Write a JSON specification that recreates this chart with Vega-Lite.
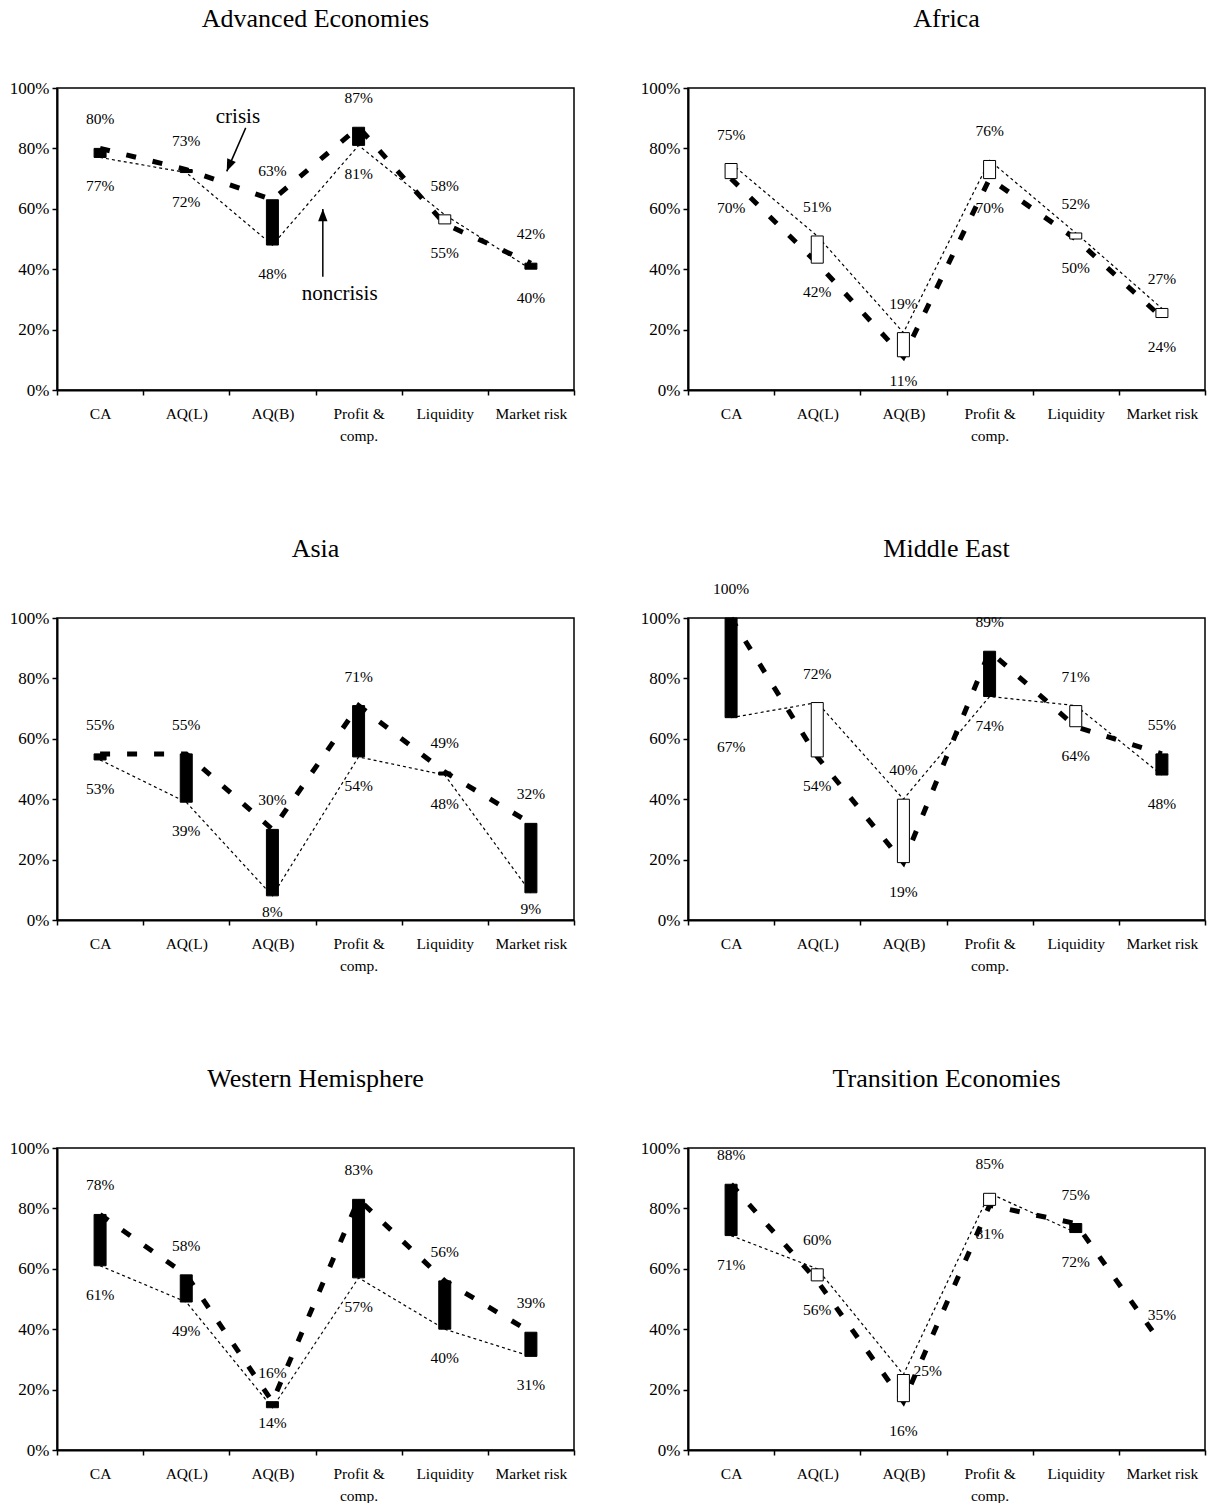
{
  "$schema": "https://vega.github.io/schema/vega-lite/v6.json",
  "background": "white",
  "padding": {"left": 8, "top": 5, "right": 0, "bottom": 0},
  "bounds": "flush",
  "config": {
    "font": "Liberation Serif",
    "view": {"stroke": "black", "strokeWidth": 1.5},
    "line": {"color": "black"},
    "bar": {"stroke": "black", "strokeWidth": 1},
    "text": {"font": "Liberation Serif", "fontSize": 15.5, "color": "black"},
    "rule": {"color": "black"},
    "point": {"color": "black", "filled": true, "opacity": 1},
    "axis": {
      "labelColor": "black",
      "labelFont": "Liberation Serif",
      "labelFontSize": 15.5,
      "domainColor": "black",
      "domainWidth": 2,
      "tickColor": "black",
      "tickWidth": 1.5,
      "tickSize": 5,
      "grid": false
    },
    "axisY": {"labelFontSize": 17}
  },
  "data": {
    "values": [
      {"region": "Advanced Economies", "cat": "CA", "crisis": 0.80, "noncrisis": 0.77},
      {"region": "Advanced Economies", "cat": "AQ(L)", "crisis": 0.73, "noncrisis": 0.72},
      {"region": "Advanced Economies", "cat": "AQ(B)", "crisis": 0.63, "noncrisis": 0.48},
      {"region": "Advanced Economies", "cat": "Profit & comp.", "crisis": 0.87, "noncrisis": 0.81},
      {"region": "Advanced Economies", "cat": "Liquidity", "crisis": 0.55, "noncrisis": 0.58},
      {"region": "Advanced Economies", "cat": "Market risk", "crisis": 0.42, "noncrisis": 0.40},
      {"region": "Africa", "cat": "CA", "crisis": 0.70, "noncrisis": 0.75},
      {"region": "Africa", "cat": "AQ(L)", "crisis": 0.42, "noncrisis": 0.51},
      {"region": "Africa", "cat": "AQ(B)", "crisis": 0.11, "noncrisis": 0.19},
      {"region": "Africa", "cat": "Profit & comp.", "crisis": 0.70, "noncrisis": 0.76},
      {"region": "Africa", "cat": "Liquidity", "crisis": 0.50, "noncrisis": 0.52},
      {"region": "Africa", "cat": "Market risk", "crisis": 0.24, "noncrisis": 0.27},
      {"region": "Asia", "cat": "CA", "crisis": 0.55, "noncrisis": 0.53},
      {"region": "Asia", "cat": "AQ(L)", "crisis": 0.55, "noncrisis": 0.39},
      {"region": "Asia", "cat": "AQ(B)", "crisis": 0.30, "noncrisis": 0.08},
      {"region": "Asia", "cat": "Profit & comp.", "crisis": 0.71, "noncrisis": 0.54},
      {"region": "Asia", "cat": "Liquidity", "crisis": 0.49, "noncrisis": 0.48},
      {"region": "Asia", "cat": "Market risk", "crisis": 0.32, "noncrisis": 0.09},
      {"region": "Middle East", "cat": "CA", "crisis": 1.00, "noncrisis": 0.67},
      {"region": "Middle East", "cat": "AQ(L)", "crisis": 0.54, "noncrisis": 0.72},
      {"region": "Middle East", "cat": "AQ(B)", "crisis": 0.19, "noncrisis": 0.40},
      {"region": "Middle East", "cat": "Profit & comp.", "crisis": 0.89, "noncrisis": 0.74},
      {"region": "Middle East", "cat": "Liquidity", "crisis": 0.64, "noncrisis": 0.71},
      {"region": "Middle East", "cat": "Market risk", "crisis": 0.55, "noncrisis": 0.48},
      {"region": "Western Hemisphere", "cat": "CA", "crisis": 0.78, "noncrisis": 0.61},
      {"region": "Western Hemisphere", "cat": "AQ(L)", "crisis": 0.58, "noncrisis": 0.49},
      {"region": "Western Hemisphere", "cat": "AQ(B)", "crisis": 0.16, "noncrisis": 0.14},
      {"region": "Western Hemisphere", "cat": "Profit & comp.", "crisis": 0.83, "noncrisis": 0.57},
      {"region": "Western Hemisphere", "cat": "Liquidity", "crisis": 0.56, "noncrisis": 0.40},
      {"region": "Western Hemisphere", "cat": "Market risk", "crisis": 0.39, "noncrisis": 0.31},
      {"region": "Transition Economies", "cat": "CA", "crisis": 0.88, "noncrisis": 0.71},
      {"region": "Transition Economies", "cat": "AQ(L)", "crisis": 0.56, "noncrisis": 0.60},
      {"region": "Transition Economies", "cat": "AQ(B)", "crisis": 0.16, "noncrisis": 0.25},
      {"region": "Transition Economies", "cat": "Profit & comp.", "crisis": 0.81, "noncrisis": 0.85},
      {"region": "Transition Economies", "cat": "Liquidity", "crisis": 0.75, "noncrisis": 0.72},
      {"region": "Transition Economies", "cat": "Market risk", "crisis": 0.35, "noncrisis": null},
      {"region": "Advanced Economies", "note": "crisis", "tx": 2.10, "ty": 0.905, "ax": 2.19, "ay": 0.868, "bx": 1.97, "by": 0.724},
      {"region": "Advanced Economies", "note": "noncrisis", "tx": 3.28, "ty": 0.319, "ax": 3.085, "ay": 0.375, "bx": 3.085, "by": 0.599}
    ]
  },
  "columns": 2,
  "spacing": {"column": 114, "row": 228},
  "concat": [
    {
      "transform": [{"filter": "datum.region == 'Advanced Economies'"}],
      "width": 517, "height": 302,
      "layer": [
        {
          "encoding": {"x": {"field": "cat", "type": "nominal", "scale": {"domain": ["CA", "AQ(L)", "AQ(B)", "Profit & comp.", "Liquidity", "Market risk"], "paddingInner": 0, "paddingOuter": 0}, "axis": {"title": null, "labelAngle": 0, "tickBand": "extent", "labelPadding": 11, "labelLineHeight": 22, "labelExpr": "datum.value == 'Profit & comp.' ? ['Profit &', 'comp.'] : datum.value"}}},
          "layer": [
            {"transform": [{"filter": "isValid(datum.cat)"}], "mark": {"type": "line", "strokeWidth": 1.2, "strokeDash": [3, 3]}, "encoding": {"y": {"field": "noncrisis", "type": "quantitative", "title": null, "scale": {"domain": [0, 1]}, "axis": {"values": [0, 0.2, 0.4, 0.6, 0.8, 1], "format": ".0%", "labelPadding": 3, "title": null}}}},
            {"transform": [{"filter": "isValid(datum.cat)"}], "mark": {"type": "line", "strokeWidth": 5, "strokeDash": [10, 17], "strokeCap": "butt"}, "encoding": {"y": {"field": "crisis", "type": "quantitative", "title": null, "scale": {"domain": [0, 1]}}}},
            {"transform": [{"filter": "isValid(datum.cat) && isValid(datum.noncrisis)"}], "mark": {"type": "bar", "size": 12}, "encoding": {"y": {"field": "crisis", "type": "quantitative", "title": null, "scale": {"domain": [0, 1]}}, "y2": {"field": "noncrisis"}, "fill": {"condition": {"test": "datum.crisis > datum.noncrisis", "value": "black"}, "value": "white"}}},
            {"transform": [{"filter": "isValid(datum.cat)"}, {"fold": ["crisis", "noncrisis"], "as": ["series", "value"]}, {"filter": "isValid(datum.value) && datum.value >= max(datum.crisis, isValid(datum.noncrisis) ? datum.noncrisis : 0)"}], "mark": {"type": "text", "dy": -29}, "encoding": {"y": {"field": "value", "type": "quantitative", "title": null, "scale": {"domain": [0, 1]}}, "text": {"field": "value", "type": "quantitative", "format": ".0%"}}},
            {"transform": [{"filter": "isValid(datum.cat) && isValid(datum.noncrisis)"}, {"fold": ["crisis", "noncrisis"], "as": ["series", "value"]}, {"filter": "datum.value < max(datum.crisis, datum.noncrisis) && datum.value >= 0.15"}], "mark": {"type": "text", "dy": 29}, "encoding": {"y": {"field": "value", "type": "quantitative", "title": null, "scale": {"domain": [0, 1]}}, "text": {"field": "value", "type": "quantitative", "format": ".0%"}}},
            {"transform": [{"filter": "isValid(datum.cat) && isValid(datum.noncrisis)"}, {"fold": ["crisis", "noncrisis"], "as": ["series", "value"]}, {"filter": "datum.value < max(datum.crisis, datum.noncrisis) && datum.value < 0.15"}], "mark": {"type": "text", "dy": 17}, "encoding": {"y": {"field": "value", "type": "quantitative", "title": null, "scale": {"domain": [0, 1]}}, "text": {"field": "value", "type": "quantitative", "format": ".0%"}}}
          ]
        },
        {
          "layer": [
            {"transform": [{"filter": "isValid(datum.cat)"}, {"aggregate": [{"op": "count", "as": "n"}], "groupby": ["region"]}], "mark": {"type": "text", "fontSize": 26, "baseline": "middle"}, "encoding": {"x": {"datum": 3, "type": "quantitative", "scale": {"domain": [0, 6]}, "axis": null}, "y": {"datum": 1.228, "type": "quantitative", "title": null, "scale": {"domain": [0, 1]}}, "text": {"field": "region"}}},
            {"transform": [{"filter": "isValid(datum.note)"}], "mark": {"type": "text", "fontSize": 21}, "encoding": {"x": {"field": "tx", "type": "quantitative", "scale": {"domain": [0, 6]}, "axis": null}, "y": {"field": "ty", "type": "quantitative", "title": null, "scale": {"domain": [0, 1]}}, "text": {"field": "note"}}},
            {"transform": [{"filter": "isValid(datum.note)"}], "mark": {"type": "rule", "strokeWidth": 1.5}, "encoding": {"x": {"field": "ax", "type": "quantitative", "scale": {"domain": [0, 6]}, "axis": null}, "y": {"field": "ay", "type": "quantitative", "title": null, "scale": {"domain": [0, 1]}}, "x2": {"field": "bx"}, "y2": {"field": "by"}}},
            {"transform": [{"filter": "datum.note == 'crisis'"}], "mark": {"type": "point", "shape": "M0,0L-0.5,1.3L0.5,1.3Z", "size": 350, "angle": 203}, "encoding": {"x": {"field": "bx", "type": "quantitative", "scale": {"domain": [0, 6]}, "axis": null}, "y": {"field": "by", "type": "quantitative", "title": null, "scale": {"domain": [0, 1]}}}},
            {"transform": [{"filter": "datum.note == 'noncrisis'"}], "mark": {"type": "point", "shape": "M0,0L-0.5,1.3L0.5,1.3Z", "size": 350, "angle": 0}, "encoding": {"x": {"field": "bx", "type": "quantitative", "scale": {"domain": [0, 6]}, "axis": null}, "y": {"field": "by", "type": "quantitative", "title": null, "scale": {"domain": [0, 1]}}}}
          ]
        }
      ],
      "resolve": {"scale": {"x": "independent"}}
    },
    {
      "transform": [{"filter": "datum.region == 'Africa'"}],
      "width": 517, "height": 302,
      "layer": [
        {
          "encoding": {"x": {"field": "cat", "type": "nominal", "scale": {"domain": ["CA", "AQ(L)", "AQ(B)", "Profit & comp.", "Liquidity", "Market risk"], "paddingInner": 0, "paddingOuter": 0}, "axis": {"title": null, "labelAngle": 0, "tickBand": "extent", "labelPadding": 11, "labelLineHeight": 22, "labelExpr": "datum.value == 'Profit & comp.' ? ['Profit &', 'comp.'] : datum.value"}}},
          "layer": [
            {"transform": [{"filter": "isValid(datum.cat)"}], "mark": {"type": "line", "strokeWidth": 1.2, "strokeDash": [3, 3]}, "encoding": {"y": {"field": "noncrisis", "type": "quantitative", "title": null, "scale": {"domain": [0, 1]}, "axis": {"values": [0, 0.2, 0.4, 0.6, 0.8, 1], "format": ".0%", "labelPadding": 3, "title": null}}}},
            {"transform": [{"filter": "isValid(datum.cat)"}], "mark": {"type": "line", "strokeWidth": 5, "strokeDash": [10, 17], "strokeCap": "butt"}, "encoding": {"y": {"field": "crisis", "type": "quantitative", "title": null, "scale": {"domain": [0, 1]}}}},
            {"transform": [{"filter": "isValid(datum.cat) && isValid(datum.noncrisis)"}], "mark": {"type": "bar", "size": 12}, "encoding": {"y": {"field": "crisis", "type": "quantitative", "title": null, "scale": {"domain": [0, 1]}}, "y2": {"field": "noncrisis"}, "fill": {"condition": {"test": "datum.crisis > datum.noncrisis", "value": "black"}, "value": "white"}}},
            {"transform": [{"filter": "isValid(datum.cat)"}, {"fold": ["crisis", "noncrisis"], "as": ["series", "value"]}, {"filter": "isValid(datum.value) && datum.value >= max(datum.crisis, isValid(datum.noncrisis) ? datum.noncrisis : 0)"}], "mark": {"type": "text", "dy": -29}, "encoding": {"y": {"field": "value", "type": "quantitative", "title": null, "scale": {"domain": [0, 1]}}, "text": {"field": "value", "type": "quantitative", "format": ".0%"}}},
            {"transform": [{"filter": "isValid(datum.cat) && isValid(datum.noncrisis)"}, {"fold": ["crisis", "noncrisis"], "as": ["series", "value"]}, {"filter": "datum.value < max(datum.crisis, datum.noncrisis) && datum.value >= 0.15"}], "mark": {"type": "text", "dy": 29}, "encoding": {"y": {"field": "value", "type": "quantitative", "title": null, "scale": {"domain": [0, 1]}}, "text": {"field": "value", "type": "quantitative", "format": ".0%"}}},
            {"transform": [{"filter": "isValid(datum.cat) && isValid(datum.noncrisis)"}, {"fold": ["crisis", "noncrisis"], "as": ["series", "value"]}, {"filter": "datum.value < max(datum.crisis, datum.noncrisis) && datum.value < 0.15"}], "mark": {"type": "text", "dy": 24}, "encoding": {"y": {"field": "value", "type": "quantitative", "title": null, "scale": {"domain": [0, 1]}}, "text": {"field": "value", "type": "quantitative", "format": ".0%"}}}
          ]
        },
        {
          "layer": [
            {"transform": [{"filter": "isValid(datum.cat)"}, {"aggregate": [{"op": "count", "as": "n"}], "groupby": ["region"]}], "mark": {"type": "text", "fontSize": 26, "baseline": "middle"}, "encoding": {"x": {"datum": 3, "type": "quantitative", "scale": {"domain": [0, 6]}, "axis": null}, "y": {"datum": 1.228, "type": "quantitative", "title": null, "scale": {"domain": [0, 1]}}, "text": {"field": "region"}}}
          ]
        }
      ],
      "resolve": {"scale": {"x": "independent"}}
    },
    {
      "transform": [{"filter": "datum.region == 'Asia'"}],
      "width": 517, "height": 302,
      "layer": [
        {
          "encoding": {"x": {"field": "cat", "type": "nominal", "scale": {"domain": ["CA", "AQ(L)", "AQ(B)", "Profit & comp.", "Liquidity", "Market risk"], "paddingInner": 0, "paddingOuter": 0}, "axis": {"title": null, "labelAngle": 0, "tickBand": "extent", "labelPadding": 11, "labelLineHeight": 22, "labelExpr": "datum.value == 'Profit & comp.' ? ['Profit &', 'comp.'] : datum.value"}}},
          "layer": [
            {"transform": [{"filter": "isValid(datum.cat)"}], "mark": {"type": "line", "strokeWidth": 1.2, "strokeDash": [3, 3]}, "encoding": {"y": {"field": "noncrisis", "type": "quantitative", "title": null, "scale": {"domain": [0, 1]}, "axis": {"values": [0, 0.2, 0.4, 0.6, 0.8, 1], "format": ".0%", "labelPadding": 3, "title": null}}}},
            {"transform": [{"filter": "isValid(datum.cat)"}], "mark": {"type": "line", "strokeWidth": 5, "strokeDash": [10, 17], "strokeCap": "butt"}, "encoding": {"y": {"field": "crisis", "type": "quantitative", "title": null, "scale": {"domain": [0, 1]}}}},
            {"transform": [{"filter": "isValid(datum.cat) && isValid(datum.noncrisis)"}], "mark": {"type": "bar", "size": 12}, "encoding": {"y": {"field": "crisis", "type": "quantitative", "title": null, "scale": {"domain": [0, 1]}}, "y2": {"field": "noncrisis"}, "fill": {"condition": {"test": "datum.crisis > datum.noncrisis", "value": "black"}, "value": "white"}}},
            {"transform": [{"filter": "isValid(datum.cat)"}, {"fold": ["crisis", "noncrisis"], "as": ["series", "value"]}, {"filter": "isValid(datum.value) && datum.value >= max(datum.crisis, isValid(datum.noncrisis) ? datum.noncrisis : 0)"}], "mark": {"type": "text", "dy": -29}, "encoding": {"y": {"field": "value", "type": "quantitative", "title": null, "scale": {"domain": [0, 1]}}, "text": {"field": "value", "type": "quantitative", "format": ".0%"}}},
            {"transform": [{"filter": "isValid(datum.cat) && isValid(datum.noncrisis)"}, {"fold": ["crisis", "noncrisis"], "as": ["series", "value"]}, {"filter": "datum.value < max(datum.crisis, datum.noncrisis) && datum.value >= 0.15"}], "mark": {"type": "text", "dy": 29}, "encoding": {"y": {"field": "value", "type": "quantitative", "title": null, "scale": {"domain": [0, 1]}}, "text": {"field": "value", "type": "quantitative", "format": ".0%"}}},
            {"transform": [{"filter": "isValid(datum.cat) && isValid(datum.noncrisis)"}, {"fold": ["crisis", "noncrisis"], "as": ["series", "value"]}, {"filter": "datum.value < max(datum.crisis, datum.noncrisis) && datum.value < 0.15"}], "mark": {"type": "text", "dy": 16}, "encoding": {"y": {"field": "value", "type": "quantitative", "title": null, "scale": {"domain": [0, 1]}}, "text": {"field": "value", "type": "quantitative", "format": ".0%"}}}
          ]
        },
        {
          "layer": [
            {"transform": [{"filter": "isValid(datum.cat)"}, {"aggregate": [{"op": "count", "as": "n"}], "groupby": ["region"]}], "mark": {"type": "text", "fontSize": 26, "baseline": "middle"}, "encoding": {"x": {"datum": 3, "type": "quantitative", "scale": {"domain": [0, 6]}, "axis": null}, "y": {"datum": 1.228, "type": "quantitative", "title": null, "scale": {"domain": [0, 1]}}, "text": {"field": "region"}}}
          ]
        }
      ],
      "resolve": {"scale": {"x": "independent"}}
    },
    {
      "transform": [{"filter": "datum.region == 'Middle East'"}],
      "width": 517, "height": 302,
      "layer": [
        {
          "encoding": {"x": {"field": "cat", "type": "nominal", "scale": {"domain": ["CA", "AQ(L)", "AQ(B)", "Profit & comp.", "Liquidity", "Market risk"], "paddingInner": 0, "paddingOuter": 0}, "axis": {"title": null, "labelAngle": 0, "tickBand": "extent", "labelPadding": 11, "labelLineHeight": 22, "labelExpr": "datum.value == 'Profit & comp.' ? ['Profit &', 'comp.'] : datum.value"}}},
          "layer": [
            {"transform": [{"filter": "isValid(datum.cat)"}], "mark": {"type": "line", "strokeWidth": 1.2, "strokeDash": [3, 3]}, "encoding": {"y": {"field": "noncrisis", "type": "quantitative", "title": null, "scale": {"domain": [0, 1]}, "axis": {"values": [0, 0.2, 0.4, 0.6, 0.8, 1], "format": ".0%", "labelPadding": 3, "title": null}}}},
            {"transform": [{"filter": "isValid(datum.cat)"}], "mark": {"type": "line", "strokeWidth": 5, "strokeDash": [10, 17], "strokeCap": "butt"}, "encoding": {"y": {"field": "crisis", "type": "quantitative", "title": null, "scale": {"domain": [0, 1]}}}},
            {"transform": [{"filter": "isValid(datum.cat) && isValid(datum.noncrisis)"}], "mark": {"type": "bar", "size": 12}, "encoding": {"y": {"field": "crisis", "type": "quantitative", "title": null, "scale": {"domain": [0, 1]}}, "y2": {"field": "noncrisis"}, "fill": {"condition": {"test": "datum.crisis > datum.noncrisis", "value": "black"}, "value": "white"}}},
            {"transform": [{"filter": "isValid(datum.cat)"}, {"fold": ["crisis", "noncrisis"], "as": ["series", "value"]}, {"filter": "isValid(datum.value) && datum.value >= max(datum.crisis, isValid(datum.noncrisis) ? datum.noncrisis : 0)"}], "mark": {"type": "text", "dy": -29}, "encoding": {"y": {"field": "value", "type": "quantitative", "title": null, "scale": {"domain": [0, 1]}}, "text": {"field": "value", "type": "quantitative", "format": ".0%"}}},
            {"transform": [{"filter": "isValid(datum.cat) && isValid(datum.noncrisis)"}, {"fold": ["crisis", "noncrisis"], "as": ["series", "value"]}, {"filter": "datum.value < max(datum.crisis, datum.noncrisis)"}], "mark": {"type": "text", "dy": 29}, "encoding": {"y": {"field": "value", "type": "quantitative", "title": null, "scale": {"domain": [0, 1]}}, "text": {"field": "value", "type": "quantitative", "format": ".0%"}}}
          ]
        },
        {
          "layer": [
            {"transform": [{"filter": "isValid(datum.cat)"}, {"aggregate": [{"op": "count", "as": "n"}], "groupby": ["region"]}], "mark": {"type": "text", "fontSize": 26, "baseline": "middle"}, "encoding": {"x": {"datum": 3, "type": "quantitative", "scale": {"domain": [0, 6]}, "axis": null}, "y": {"datum": 1.228, "type": "quantitative", "title": null, "scale": {"domain": [0, 1]}}, "text": {"field": "region"}}}
          ]
        }
      ],
      "resolve": {"scale": {"x": "independent"}}
    },
    {
      "transform": [{"filter": "datum.region == 'Western Hemisphere'"}],
      "width": 517, "height": 302,
      "layer": [
        {
          "encoding": {"x": {"field": "cat", "type": "nominal", "scale": {"domain": ["CA", "AQ(L)", "AQ(B)", "Profit & comp.", "Liquidity", "Market risk"], "paddingInner": 0, "paddingOuter": 0}, "axis": {"title": null, "labelAngle": 0, "tickBand": "extent", "labelPadding": 11, "labelLineHeight": 22, "labelExpr": "datum.value == 'Profit & comp.' ? ['Profit &', 'comp.'] : datum.value"}}},
          "layer": [
            {"transform": [{"filter": "isValid(datum.cat)"}], "mark": {"type": "line", "strokeWidth": 1.2, "strokeDash": [3, 3]}, "encoding": {"y": {"field": "noncrisis", "type": "quantitative", "title": null, "scale": {"domain": [0, 1]}, "axis": {"values": [0, 0.2, 0.4, 0.6, 0.8, 1], "format": ".0%", "labelPadding": 3, "title": null}}}},
            {"transform": [{"filter": "isValid(datum.cat)"}], "mark": {"type": "line", "strokeWidth": 5, "strokeDash": [10, 17], "strokeCap": "butt"}, "encoding": {"y": {"field": "crisis", "type": "quantitative", "title": null, "scale": {"domain": [0, 1]}}}},
            {"transform": [{"filter": "isValid(datum.cat) && isValid(datum.noncrisis)"}], "mark": {"type": "bar", "size": 12}, "encoding": {"y": {"field": "crisis", "type": "quantitative", "title": null, "scale": {"domain": [0, 1]}}, "y2": {"field": "noncrisis"}, "fill": {"condition": {"test": "datum.crisis > datum.noncrisis", "value": "black"}, "value": "white"}}},
            {"transform": [{"filter": "isValid(datum.cat)"}, {"fold": ["crisis", "noncrisis"], "as": ["series", "value"]}, {"filter": "isValid(datum.value) && datum.value >= max(datum.crisis, isValid(datum.noncrisis) ? datum.noncrisis : 0)"}], "mark": {"type": "text", "dy": -29}, "encoding": {"y": {"field": "value", "type": "quantitative", "title": null, "scale": {"domain": [0, 1]}}, "text": {"field": "value", "type": "quantitative", "format": ".0%"}}},
            {"transform": [{"filter": "isValid(datum.cat) && isValid(datum.noncrisis)"}, {"fold": ["crisis", "noncrisis"], "as": ["series", "value"]}, {"filter": "datum.value < max(datum.crisis, datum.noncrisis) && datum.value >= 0.15"}], "mark": {"type": "text", "dy": 29}, "encoding": {"y": {"field": "value", "type": "quantitative", "title": null, "scale": {"domain": [0, 1]}}, "text": {"field": "value", "type": "quantitative", "format": ".0%"}}},
            {"transform": [{"filter": "isValid(datum.cat) && isValid(datum.noncrisis)"}, {"fold": ["crisis", "noncrisis"], "as": ["series", "value"]}, {"filter": "datum.value < max(datum.crisis, datum.noncrisis) && datum.value < 0.15"}], "mark": {"type": "text", "dy": 15}, "encoding": {"y": {"field": "value", "type": "quantitative", "title": null, "scale": {"domain": [0, 1]}}, "text": {"field": "value", "type": "quantitative", "format": ".0%"}}}
          ]
        },
        {
          "layer": [
            {"transform": [{"filter": "isValid(datum.cat)"}, {"aggregate": [{"op": "count", "as": "n"}], "groupby": ["region"]}], "mark": {"type": "text", "fontSize": 26, "baseline": "middle"}, "encoding": {"x": {"datum": 3, "type": "quantitative", "scale": {"domain": [0, 6]}, "axis": null}, "y": {"datum": 1.228, "type": "quantitative", "title": null, "scale": {"domain": [0, 1]}}, "text": {"field": "region"}}}
          ]
        }
      ],
      "resolve": {"scale": {"x": "independent"}}
    },
    {
      "transform": [{"filter": "datum.region == 'Transition Economies'"}],
      "width": 517, "height": 302,
      "layer": [
        {
          "encoding": {"x": {"field": "cat", "type": "nominal", "scale": {"domain": ["CA", "AQ(L)", "AQ(B)", "Profit & comp.", "Liquidity", "Market risk"], "paddingInner": 0, "paddingOuter": 0}, "axis": {"title": null, "labelAngle": 0, "tickBand": "extent", "labelPadding": 11, "labelLineHeight": 22, "labelExpr": "datum.value == 'Profit & comp.' ? ['Profit &', 'comp.'] : datum.value"}}},
          "layer": [
            {"transform": [{"filter": "isValid(datum.cat)"}], "mark": {"type": "line", "strokeWidth": 1.2, "strokeDash": [3, 3]}, "encoding": {"y": {"field": "noncrisis", "type": "quantitative", "title": null, "scale": {"domain": [0, 1]}, "axis": {"values": [0, 0.2, 0.4, 0.6, 0.8, 1], "format": ".0%", "labelPadding": 3, "title": null}}}},
            {"transform": [{"filter": "isValid(datum.cat)"}], "mark": {"type": "line", "strokeWidth": 5, "strokeDash": [10, 17], "strokeCap": "butt"}, "encoding": {"y": {"field": "crisis", "type": "quantitative", "title": null, "scale": {"domain": [0, 1]}}}},
            {"transform": [{"filter": "isValid(datum.cat) && isValid(datum.noncrisis)"}], "mark": {"type": "bar", "size": 12}, "encoding": {"y": {"field": "crisis", "type": "quantitative", "title": null, "scale": {"domain": [0, 1]}}, "y2": {"field": "noncrisis"}, "fill": {"condition": {"test": "datum.crisis > datum.noncrisis", "value": "black"}, "value": "white"}}},
            {"transform": [{"filter": "isValid(datum.cat) && datum.cat != 'AQ(B)'"}, {"fold": ["crisis", "noncrisis"], "as": ["series", "value"]}, {"filter": "isValid(datum.value) && datum.value >= max(datum.crisis, isValid(datum.noncrisis) ? datum.noncrisis : 0)"}], "mark": {"type": "text", "dy": -29}, "encoding": {"y": {"field": "value", "type": "quantitative", "title": null, "scale": {"domain": [0, 1]}}, "text": {"field": "value", "type": "quantitative", "format": ".0%"}}},
            {"transform": [{"filter": "datum.cat == 'AQ(B)'"}], "mark": {"type": "text", "align": "left", "dx": 10, "dy": -4}, "encoding": {"y": {"field": "noncrisis", "type": "quantitative", "title": null, "scale": {"domain": [0, 1]}}, "text": {"field": "noncrisis", "type": "quantitative", "format": ".0%"}}},
            {"transform": [{"filter": "isValid(datum.cat) && isValid(datum.noncrisis)"}, {"fold": ["crisis", "noncrisis"], "as": ["series", "value"]}, {"filter": "datum.value < max(datum.crisis, datum.noncrisis)"}], "mark": {"type": "text", "dy": 29}, "encoding": {"y": {"field": "value", "type": "quantitative", "title": null, "scale": {"domain": [0, 1]}}, "text": {"field": "value", "type": "quantitative", "format": ".0%"}}}
          ]
        },
        {
          "layer": [
            {"transform": [{"filter": "isValid(datum.cat)"}, {"aggregate": [{"op": "count", "as": "n"}], "groupby": ["region"]}], "mark": {"type": "text", "fontSize": 26, "baseline": "middle"}, "encoding": {"x": {"datum": 3, "type": "quantitative", "scale": {"domain": [0, 6]}, "axis": null}, "y": {"datum": 1.228, "type": "quantitative", "title": null, "scale": {"domain": [0, 1]}}, "text": {"field": "region"}}}
          ]
        }
      ],
      "resolve": {"scale": {"x": "independent"}}
    }
  ]
}
